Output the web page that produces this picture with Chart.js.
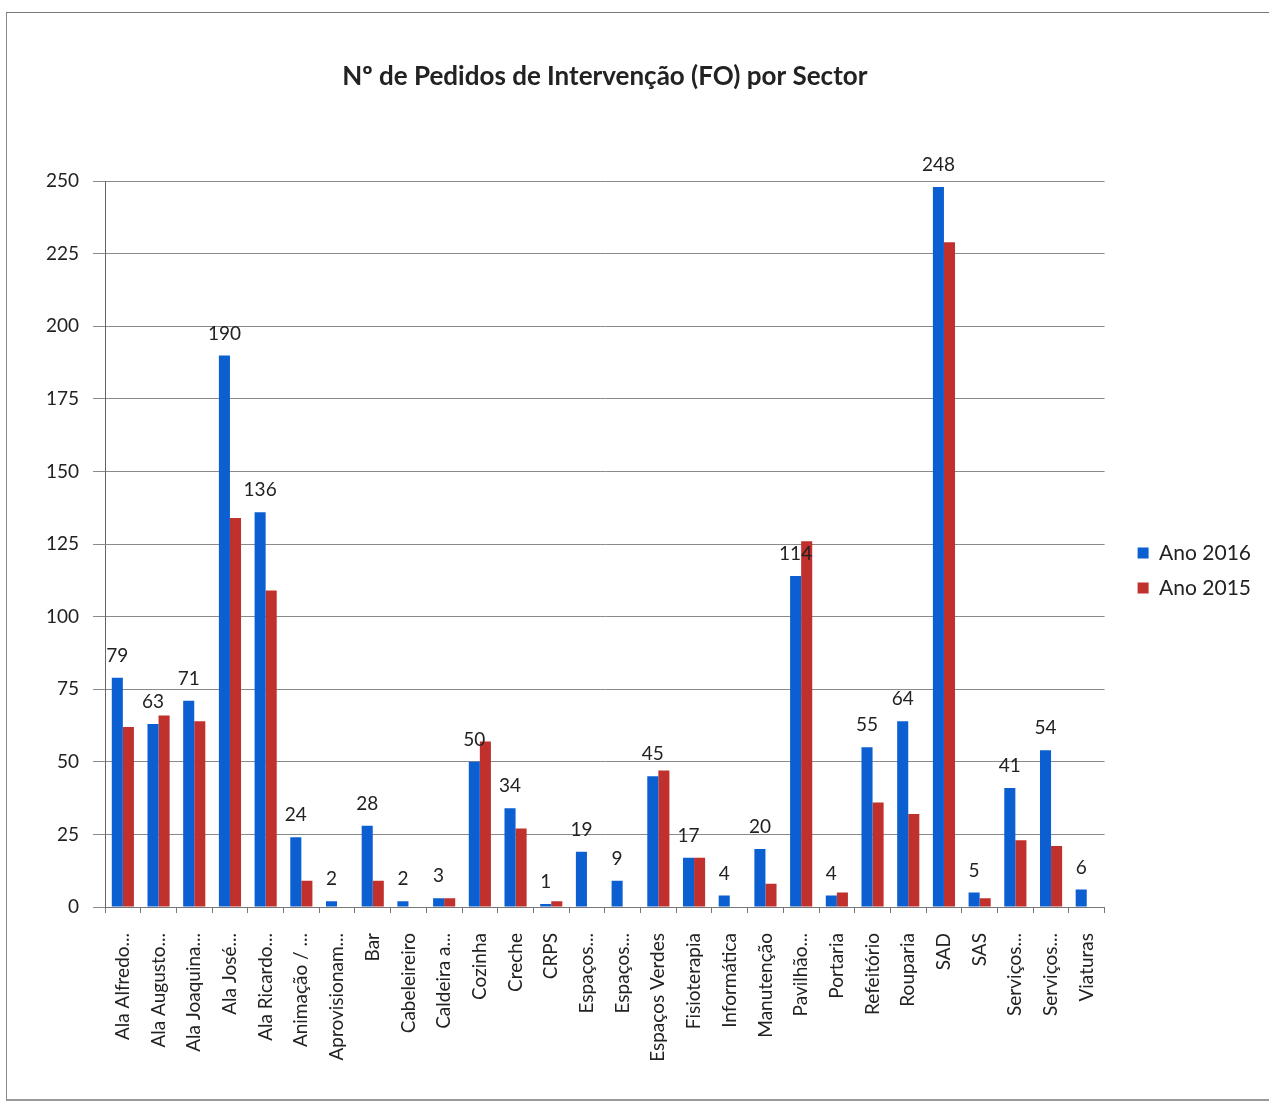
<!DOCTYPE html>
<html>
<head>
<meta charset="utf-8">
<script src="https://cdn.jsdelivr.net/npm/chart.js@4.4.1/dist/chart.umd.min.js"></script>
<style>
  body { margin: 0; background: #fff; }
  #wrap { position: relative; width: 1269px; height: 1103px; overflow: hidden; }
  #frame {
    position: absolute; left: 6px; top: 12px; width: 1280px; height: 1086px;
    border-left: 1px solid #888; border-top: 1px solid #777; border-bottom: 2px solid #999;
  }
  #chart { position: absolute; left: 0; top: 0; }
</style>
</head>
<body>
<div id="wrap">
  <div id="frame"></div>
  <canvas id="chart" width="1269" height="1103"></canvas>
</div>
<script>
const sectors = [
  "Ala Alfredo...", "Ala Augusto...", "Ala Joaquina...", "Ala José...", "Ala Ricardo...",
  "Animação / ...", "Aprovisionam...", "Bar", "Cabeleireiro", "Caldeira a...",
  "Cozinha", "Creche", "CRPS", "Espaços...", "Espaços...", "Espaços Verdes",
  "Fisioterapia", "Informática", "Manutenção", "Pavilhão...", "Portaria",
  "Refeitório", "Rouparia", "SAD", "SAS", "Serviços...", "Serviços...", "Viaturas"
];
const ano2016 = [79, 63, 71, 190, 136, 24, 2, 28, 2, 3, 50, 34, 1, 19, 9, 45, 17, 4, 20, 114, 4, 55, 64, 248, 5, 41, 54, 6];
const ano2015 = [62, 66, 64, 134, 109, 9, 0, 9, 0, 3, 57, 27, 2, 0, 0, 47, 17, 0, 8, 126, 5, 36, 32, 229, 3, 23, 21, 0];
const yTicks = [0, 25, 50, 75, 100, 125, 150, 175, 200, 225, 250];

const FONT = "Lato, 'Open Sans', sans-serif";

// value labels above the 2016 bars only
const valueLabels = {
  id: "valueLabels",
  afterDatasetsDraw(chart) {
    const ctx = chart.ctx;
    const meta = chart.getDatasetMeta(0);
    ctx.save();
    ctx.font = "19px " + FONT;
    ctx.fillStyle = "#222";
    ctx.textAlign = "center";
    ctx.textBaseline = "middle";
    meta.data.forEach((bar, i) => {
      ctx.fillText(String(ano2016[i]), bar.x, bar.y - 22);
    });
    ctx.restore();
  },
};

new Chart(document.getElementById("chart"), {
  type: "bar",
  data: {
    labels: sectors,
    datasets: [
      {
        label: "Ano 2016",
        data: ano2016,
        backgroundColor: "#0b5fd0",
      },
      {
        label: "Ano 2015",
        data: ano2015,
        backgroundColor: "#c0302c",
      },
    ],
  },
  options: {
    responsive: false,
    animation: false,
    devicePixelRatio: 1,
    layout: { padding: { left: 40, right: 8, top: 38, bottom: 0 } },
    datasets: {
      bar: { categoryPercentage: 0.62, barPercentage: 1.0 },
    },
    scales: {
      x: {
        grid: { drawOnChartArea: false, drawTicks: true, tickLength: 6, color: "#777" },
        border: { color: "#777" },
        ticks: {
          minRotation: 90,
          maxRotation: 90,
          autoSkip: false,
          padding: 20,
          color: "#222",
          font: { family: FONT, size: 19 },
        },
        afterFit(scale) {
          scale.height = 196;
        },
      },
      y: {
        min: 0,
        max: 250,
        afterBuildTicks(scale) {
          scale.ticks = yTicks.map((v) => ({ value: v }));
        },
        grid: { color: "#8a8a8a", tickLength: 12 },
        border: { color: "#666" },
        ticks: {
          padding: 14,
          color: "#222",
          font: { family: FONT, size: 19 },
        },
        afterFit(scale) {
          scale.width = 65;
        },
      },
      // empty spacer between plot and legend
      gap: {
        position: "right",
        grid: { display: false },
        border: { display: false },
        ticks: { display: false },
        afterFit(scale) {
          scale.width = 19;
        },
      },
    },
    plugins: {
      title: {
        display: true,
        fullSize: false,
        text: "Nº de Pedidos de Intervenção (FO) por Sector",
        color: "#222",
        font: { family: FONT, size: 26, weight: "bold" },
        padding: { top: 23, bottom: 89 },
      },
      legend: {
        position: "right",
        labels: {
          boxWidth: 11,
          boxHeight: 11,
          padding: 14,
          color: "#222",
          font: { family: FONT, size: 21 },
        },
      },
      tooltip: { enabled: false },
    },
  },
  plugins: [valueLabels],
});
</script>
</body>
</html>
